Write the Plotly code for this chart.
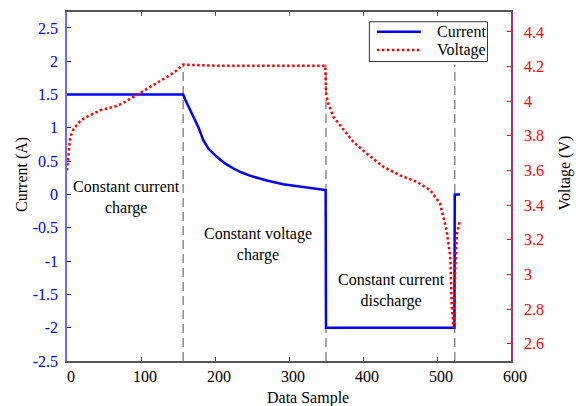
import plotly.graph_objects as go

# Battery cycling record: current (left axis) and terminal voltage (right axis)
sample_i = [0, 157, 160, 165, 171, 178, 184, 191, 202, 213, 225, 236, 248,
            270, 292, 315, 335, 349.5, 350, 523.5, 524, 531]
current = [1.5, 1.5, 1.42, 1.3, 1.17, 1.0, 0.82, 0.69, 0.57, 0.47, 0.39, 0.33,
           0.28, 0.21, 0.155, 0.117, 0.085, 0.067, -2.0, -2.0, 0.0, 0.0]

sample_v = [0, 2, 4, 6, 9, 13, 19, 27, 36, 45, 56, 67, 78, 90, 101, 112, 124,
            135, 146, 153, 157, 165, 200, 250, 300, 349, 350, 352, 360, 374,
            387, 405, 428, 450, 473, 491, 504, 513, 518, 520, 522.5, 524.7,
            527, 531]
voltage = [3.60, 3.72, 3.78, 3.81, 3.84, 3.861, 3.89, 3.91, 3.93, 3.948, 3.96,
           3.972, 3.995, 4.025, 4.052, 4.079, 4.11, 4.14, 4.17, 4.198, 4.212,
           4.21, 4.205, 4.205, 4.205, 4.205, 4.05, 4.0, 3.91, 3.832, 3.765,
           3.698, 3.62, 3.572, 3.534, 3.486, 3.41, 3.254, 3.10, 2.81, 2.69,
           3.04, 3.235, 3.31]

# Phase boundaries (sample index) and phase labels
phase_edges = [157, 350, 524]
phase_labels = ["Constant current<br>charge", "Constant voltage<br>charge",
                "Constant current<br>discharge"]
label_x = [81, 258, 439]
label_y = [-0.05, -0.75, -1.44]

x_ticks = [0, 100, 200, 300, 400, 500, 600]
i_ticks = [-2.5, -2, -1.5, -1, -0.5, 0, 0.5, 1, 1.5, 2, 2.5]
i_ticktext = ["-2.5", "-2", "-1.5", "-1", "-0.5", "0", "0.5", "1", "1.5", "2", "2.5"]
v_ticks = [2.6, 2.8, 3.0, 3.2, 3.4, 3.6, 3.8, 4.0, 4.2, 4.4]
v_ticktext = ["2.6", "2.8", "3", "3.2", "3.4", "3.6", "3.8", "4", "4.2", "4.4"]

FONT = "Liberation Serif, Times New Roman, serif"
FS = 16
BLUE = "#0000ff"
RED = "#ff0000"
CURRENT_LINE = dict(color=BLUE, width=2.5)
VOLTAGE_LINE = dict(color=RED, width=2.5, dash="2.5px,2.5px")

fig = go.Figure()
fig.add_trace(go.Scatter(x=sample_i, y=current, mode="lines", name="Current",
                         line=CURRENT_LINE, showlegend=False))
fig.add_trace(go.Scatter(x=sample_v, y=voltage, mode="lines", name="Voltage",
                         yaxis="y2", line=VOLTAGE_LINE, showlegend=False))

# Dashed separators between the charge / discharge phases
for xe in phase_edges:
    fig.add_shape(type="line", x0=xe, x1=xe, y0=-2.5, y1=1.95, xref="x", yref="y",
                  line=dict(color="#8c8c8c", width=1.5, dash="9px,5px"), layer="below")

for txt, lx, ly in zip(phase_labels, label_x, label_y):
    fig.add_annotation(x=lx, y=ly, xref="x", yref="y", text=txt, showarrow=False,
                       font=dict(family=FONT, size=FS, color="black"))

# Boxed key in the upper-right corner of the axes
fig.add_shape(type="rect", xref="paper", yref="paper", x0=0.681, x1=0.947,
              y0=0.858, y1=0.972, fillcolor="white",
              line=dict(color="#333333", width=1), layer="above")
for name, style, yk in [("Current", CURRENT_LINE, 0.9436), ("Voltage", VOLTAGE_LINE, 0.891)]:
    fig.add_shape(type="line", xref="paper", yref="paper", x0=0.698, x1=0.797,
                  y0=yk, y1=yk, line=style, layer="above")
    fig.add_annotation(xref="paper", yref="paper", x=0.829, y=yk, text=name,
                       showarrow=False, xanchor="left", yanchor="middle",
                       font=dict(family=FONT, size=FS, color="black"))

# Axis titles
fig.add_annotation(xref="paper", yref="paper", x=0.543, y=-0.106, text="Data Sample",
                   showarrow=False, xanchor="center", yanchor="middle",
                   font=dict(family=FONT, size=FS, color="black"))
fig.add_annotation(xref="paper", yref="paper", x=-0.1014, y=0.536, text="Current (A)",
                   textangle=-90, showarrow=False, xanchor="center", yanchor="middle",
                   font=dict(family=FONT, size=FS, color="black"))
fig.add_annotation(xref="paper", yref="paper", x=1.1216, y=0.54, text="Voltage (V)",
                   textangle=-90, showarrow=False, xanchor="center", yanchor="middle",
                   font=dict(family=FONT, size=FS, color="black"))

fig.update_layout(
    width=580, height=406,
    margin=dict(l=67, r=69, t=12, b=45),
    paper_bgcolor="white", plot_bgcolor="white",
    font=dict(family=FONT, size=FS, color="black"),
    showlegend=False,
    xaxis=dict(range=[0, 600], tickvals=x_ticks, ticks="inside", ticklen=4,
               tickcolor="#555555", showline=True, linecolor="#555555",
               linewidth=1.5, mirror="ticks", showgrid=False, zeroline=False,
               ticklabelshift=4,
               tickfont=dict(family=FONT, size=FS, color="black"),
               automargin=False),
    yaxis=dict(range=[-2.5, 2.74], tickvals=i_ticks, ticktext=i_ticktext,
               ticks="inside", ticklen=4, tickcolor=BLUE,
               showline=True, linecolor="#6a6aff", linewidth=1.5,
               showgrid=False, zeroline=False, ticklabelstandoff=4,
               tickfont=dict(family=FONT, size=FS, color=BLUE),
               automargin=False),
    yaxis2=dict(range=[2.5, 4.515], tickvals=v_ticks, ticktext=v_ticktext,
                overlaying="y", side="right", ticks="inside", ticklen=4,
                tickcolor=RED, showline=True, linecolor="#a8326e",
                linewidth=1.5, showgrid=False, zeroline=False,
                ticklabelstandoff=8,
                tickfont=dict(family=FONT, size=FS, color=RED),
                automargin=False),
)

fig.write_html("out.html")
